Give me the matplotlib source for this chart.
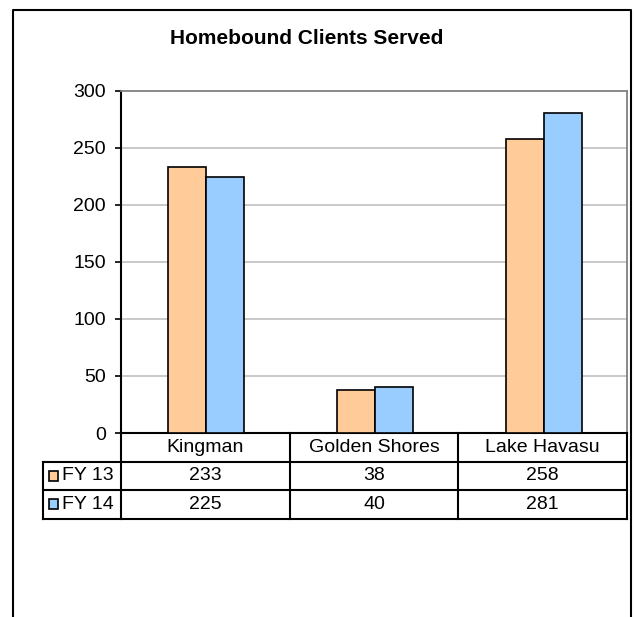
import numpy as np
import matplotlib.pyplot as plt
from matplotlib.patches import Rectangle
from matplotlib.lines import Line2D

plt.rcParams['font.family'] = ['Liberation Sans', 'DejaVu Sans']

# Data
title = "Homebound Clients Served"
categories = ["Kingman", "Golden Shores", "Lake Havasu"]
series_names = ["FY 13", "FY 14"]
fy13 = [233, 38, 258]
fy14 = [225, 40, 281]
colors = ["#FFCC99", "#99CCFF"]
yticks = [0, 50, 100, 150, 200, 250, 300]

W, H = 634, 617
fig = plt.figure(figsize=(W / 100, H / 100), dpi=100)
fig.patch.set_facecolor("white")

# plot area in pixel terms
left, right, top, bottom = 121, 627, 91, 433
ax = fig.add_axes([left / W, 1 - bottom / H, (right - left) / W, (bottom - top) / H])

x = np.arange(len(categories))
bw = 0.225
for i, (vals, col) in enumerate(zip([fy13, fy14], colors)):
    ax.bar(x + (i - 0.5) * bw + 0.006, vals, width=bw, color=col, edgecolor="black",
           linewidth=1.2, zorder=3)

ax.set_xlim(-0.5, len(categories) - 0.5)
ax.set_ylim(0, 300)
ax.set_yticks(yticks)
ax.set_xticks([])
ax.tick_params(axis="y", direction="out", length=4, width=1.2, pad=7, labelsize=14)
for y in yticks[1:-1]:
    ax.axhline(y, color="#c0c0c0", linewidth=1.2, zorder=1)
ax.spines["left"].set_linewidth(1.5)
ax.spines["bottom"].set_linewidth(1.5)
ax.spines["top"].set_color("#808080")
ax.spines["top"].set_linewidth(1.3)
ax.spines["right"].set_color("#808080")
ax.spines["right"].set_linewidth(1.3)

# data table below the plot
n = len(categories)
pw = right - left
ph = bottom - top
row_h = 28.5 / ph
leg_left = (43 - left) / pw
tr = ax.transAxes
lw = 1.5

def hline(y, x0, x1):
    ax.add_line(Line2D([x0, x1], [y, y], transform=tr, color="black", lw=lw, clip_on=False))

def vline(xx, y0, y1):
    ax.add_line(Line2D([xx, xx], [y0, y1], transform=tr, color="black", lw=lw, clip_on=False))

hline(-row_h, leg_left, 1)
hline(-2 * row_h, leg_left, 1)
hline(-3 * row_h, leg_left, 1)
vline(leg_left, -row_h, -3 * row_h)
for k in range(n + 1):
    vline(k / n, 0, -3 * row_h)

for k, cat in enumerate(categories):
    ax.text((k + 0.5) / n, -0.5 * row_h, cat, transform=tr, ha="center",
            va="center", fontsize=14)

for r, (name, vals, col) in enumerate(zip(series_names, [fy13, fy14], colors)):
    yc = -(r + 1.5) * row_h
    sq_w = 9 / pw
    sq_h = 10 / ph
    ax.add_patch(Rectangle((leg_left + 6 / pw, yc - sq_h / 2), sq_w, sq_h,
                           transform=tr, facecolor=col, edgecolor="black",
                           linewidth=1.2, clip_on=False))
    ax.text(leg_left + 19 / pw, yc, name, transform=tr, ha="left",
            va="center", fontsize=14)
    for k, v in enumerate(vals):
        ax.text((k + 0.5) / n, yc, str(v), transform=tr, ha="center",
                va="center", fontsize=14)

fig.text(307 / W, 1 - 39 / H, title, ha="center", va="center",
         fontsize=15, fontweight="bold")

# outer chart border (open at bottom)
bx0, bx1, by0 = 13 / W, 631 / W, 1 - 10 / H
fig.add_artist(Line2D([bx0, bx0, bx1, bx1], [0, by0, by0, 0], color="black", lw=1.5))

fig.savefig("out.png", dpi=100)
